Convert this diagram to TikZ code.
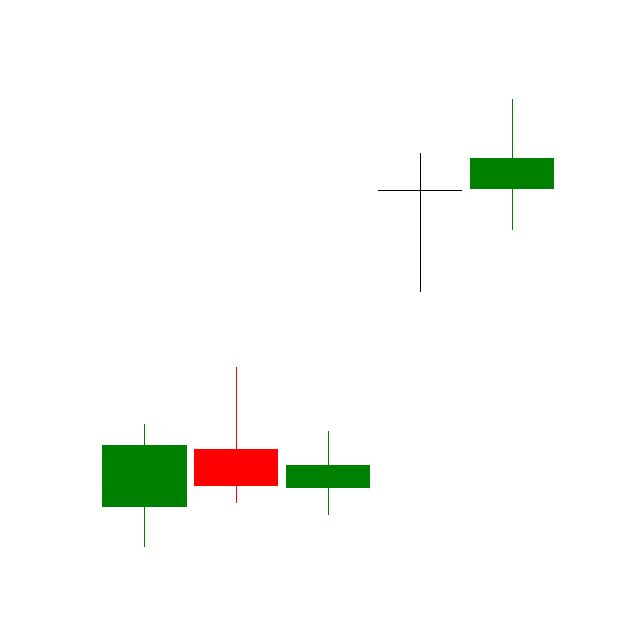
\documentclass[tikz,border=0pt]{standalone}
\begin{document}
\begin{tikzpicture}[x=1pt,y=-1pt,
  wick/.style={line width=1pt},
  upbody/.style={fill=upgreen,draw=none},
  downbody/.style={fill=red,draw=none}]
\definecolor{upgreen}{RGB}{0,128,0}
\useasboundingbox[fill=white] (0,0) rectangle (640,640);
% candle 1
\draw[wick,upgreen] (144,424) -- (144,546.5);
\fill[upbody] (102.3,444.7) rectangle (186.7,506.7);
% candle 2
\draw[wick,red] (236,367) -- (236,503);
\fill[downbody] (194.3,449) rectangle (278.3,486);
% candle 3
\draw[wick,upgreen] (328.3,431) -- (328.3,515);
\fill[upbody] (286,465.3) rectangle (370,488.3);
% candle 4 (doji)
\draw[wick,black] (420,153.3) -- (420,291.7);
\draw[wick,black] (378.3,190) -- (461.7,190);
% candle 5
\draw[wick,upgreen] (512.3,99) -- (512.3,230);
\fill[upbody] (470,158) rectangle (554.3,188.7);
\end{tikzpicture}
\end{document}
